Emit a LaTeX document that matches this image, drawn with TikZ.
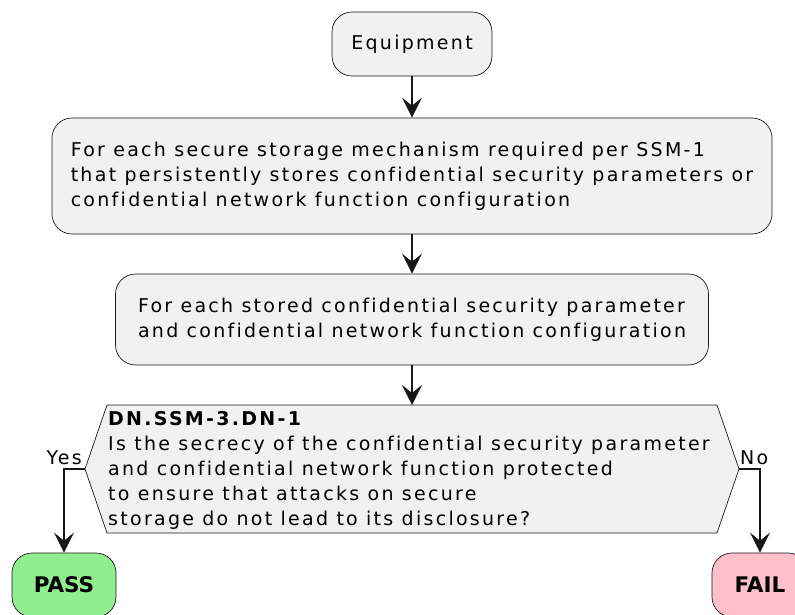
\documentclass[tikz,border=0pt]{standalone}
\usepackage{fontspec}
\setmainfont[LetterSpace=12,Ligatures=NoCommon]{DejaVu Sans}
\usetikzlibrary{arrows.meta}
\definecolor{boxfill}{HTML}{F1F1F1}
\definecolor{ink}{HTML}{181818}
\definecolor{passfill}{HTML}{90EE90}
\definecolor{failfill}{HTML}{FFC0CB}

\begin{document}
\begin{tikzpicture}[x=1pt,y=-1pt,
  every node/.style={font=\fontsize{19}{25}\selectfont, text=black},
  act/.style={draw=ink, fill=boxfill, rounded corners=20pt, line width=0.7pt, align=left},
  result/.style={act, minimum height=64pt,
    font=\fontsize{21.5}{25}\selectfont\bfseries\addfontfeature{LetterSpace=0}},
  flow/.style={draw=ink, line width=1.5pt, -{Stealth[length=20pt,width=20pt,inset=8pt]}},
  lbl/.style={inner sep=0pt},
]
\useasboundingbox (0,0) rectangle (795,615);

% activity boxes
\node[act, minimum width=160pt, minimum height=64pt] (equip) at (412,44) {Equipment};
\node[act, minimum width=720pt, minimum height=116pt] (mech) at (412,176)
  {For each secure storage mechanism required per SSM-1\\
   that persistently stores confidential security parameters or\\
   confidential network function configuration};
\node[act, minimum width=593pt, minimum height=91pt] (param) at (412,319.5)
  {For each stored confidential security parameter\\
   and confidential network function configuration};

% decision hexagon
\coordinate (decT) at (412,405);
\coordinate (decL) at (85,469);
\coordinate (decR) at (739,469);
\draw[draw=ink, fill=boxfill, line width=0.7pt]
  (decL) -- (107,405) -- (717,405) -- (decR) -- (717,533) -- (107,533) -- cycle;
\node[lbl, anchor=north west, align=left] (dec) at (108,411)
  {\textbf{DN.SSM-3.DN-1}\\
   Is the secrecy of the confidential security parameter\\
   and confidential network function protected\\
   to ensure that attacks on secure\\
   storage do not lead to its disclosure?};

% outcomes
\node[result, fill=passfill, minimum width=104pt] (pass) at (64,585) {PASS};
\node[result, fill=failfill, minimum width=96pt] (fail) at (760,585) {FAIL};

% connectors
\draw[flow] (equip) -- (mech);
\draw[flow] (mech) -- (param);
\draw[flow] (param.south) -- (decT);
\draw[flow] (decL) -| (pass.north);
\draw[flow] (decR) -| (fail.north);

% branch labels
\node[lbl, anchor=base east] (yes) at (82,464) {Yes};
\node[lbl, anchor=base west] (no) at (740,464) {No};
\end{tikzpicture}
\end{document}
